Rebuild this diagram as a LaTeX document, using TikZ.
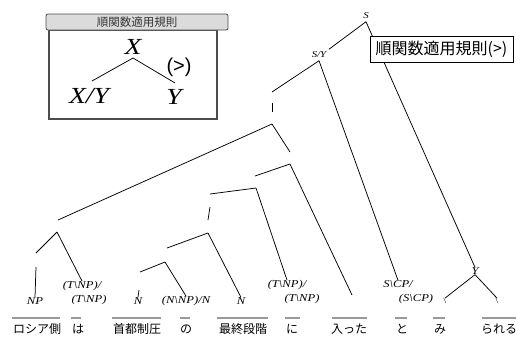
\documentclass[tikz,border=0pt]{standalone}
\usepackage{fontspec}
\setmainfont{Liberation Serif}
\newfontfamily\jp{Noto Sans CJK JP}
\newfontfamily\catf[FakeStretch=1.2]{Liberation Serif}
\newfontfamily\sansf{Liberation Sans}
\begin{document}
\begin{tikzpicture}[x=1pt,y=-1pt,
  cat/.style={font=\catf\itshape\fontsize{10.5}{11}\selectfont, inner sep=0pt},
  smallcat/.style={font=\catf\itshape\fontsize{9}{9}\selectfont, inner sep=2.5pt},
  bigcat/.style={font=\catf\itshape\fontsize{23}{23}\selectfont, inner sep=0pt},
  word/.style={font=\jp\fontsize{12}{12}\selectfont, inner sep=0pt},
  edge/.style={draw=black, line width=0.75pt},
  uline/.style={draw=gray!80, line width=1.8pt}]
\useasboundingbox (0,0) rectangle (516,338);

% ---------- inset box ----------
\node[draw=gray!60!black, line width=1.2pt, minimum width=168pt, minimum height=89pt, inner sep=0pt] (ibody) at (133,74.5) {};
\node[draw=gray!60!black, fill=gray!28, rounded corners=2pt, line width=0.8pt, minimum width=182pt, minimum height=16pt, inner sep=0pt, font=\jp\fontsize{11.5}{11.5}\selectfont, text=black!80] (ihead) at (137,22) {順関数適用規則};
\node[bigcat] (iX) at (133,47) {X};
\node[bigcat] (iXY) at (89,96) {X/Y};
\node[bigcat] (iY) at (174,97) {Y};
\node[font=\sansf\fontsize{20}{20}\selectfont, inner sep=0pt] (igt) at (179,67) {(>)};
\coordinate (ixb) at (133,58);
\coordinate (ixyt) at (92,81);
\coordinate (iyt) at (175,83);
\draw[edge] (ixb) -- (ixyt);
\draw[edge] (ixb) -- (iyt);

% ---------- category labels ----------
\node[smallcat] (S) at (366,16) {S};
\node[smallcat] (SY) at (319,55) {S/Y};
\node[cat] (NP) at (35,301) {NP};
\node[cat] (ha1) at (82,286) {(T\textbackslash NP)/};
\node[cat] (ha2) at (89,300) {(T\textbackslash NP)};
\node[cat] (N1) at (138,301) {N};
\node[cat] (NNP) at (186,301) {(N\textbackslash NP)/N};
\node[cat] (N3) at (241,301) {N};
\node[cat] (ni1) at (287,285) {(T\textbackslash NP)/};
\node[cat] (ni2) at (302,299) {(T\textbackslash NP)};
\node[cat] (SCP1) at (398,284) {S\textbackslash CP/};
\node[cat] (SCP2) at (416,299) {(S\textbackslash CP)};
\node[cat] (Y) at (475,271) {Y};
\node[cat, font=\catf\fontsize{8}{8}\selectfont] (bs1) at (445,301) {\textbackslash};
\node[cat, font=\catf\fontsize{8}{8}\selectfont] (bs2) at (497,301) {\textbackslash};

% ---------- unlabeled tree nodes ----------
\coordinate (n1t) at (272,92);
\coordinate (n1a) at (272,103);
\coordinate (n1b) at (272,112);
\coordinate (n2b) at (272,124);
\coordinate (n3t) at (58,220);
\coordinate (n3b) at (57,232);
\coordinate (n4t) at (290,152);
\coordinate (n4b) at (290,164);
\coordinate (n5t) at (255,176);
\coordinate (n5b) at (256,188);
\coordinate (n6t) at (210,194);
\coordinate (n6a) at (210,207);
\coordinate (n6b) at (208,220);
\coordinate (n7b) at (208,233);
\coordinate (n8t) at (167,248);
\coordinate (n8b) at (165,262);
\coordinate (n9t) at (140,272);
\coordinate (n9a) at (139,290);
\coordinate (n10t) at (36,253);
\coordinate (n10a) at (36,267);
\coordinate (hend) at (352,295);

% ---------- connectors ----------
\draw[edge] (S.south) -- (SY.north east);
\draw[edge] (S.south) -- (Y.north);
\draw[edge] (SY.south) -- (n1t);
\draw[edge] (n1a) -- (n1b);
\draw[edge] (SY.south) -- (SCP1.north);
\draw[edge] (n2b) -- (n3t);
\draw[edge] (n2b) -- (n4t);
\draw[edge] (n4b) -- (n5t);
\draw[edge] (n4b) -- (hend);
\draw[edge] (n5b) -- (n6t);
\draw[edge] (n5b) -- (ni1.north);
\draw[edge] (n6a) -- (n6b);
\draw[edge] (n7b) -- (n8t);
\draw[edge] (n7b) -- (N3.north);
\draw[edge] (n8b) -- (n9t);
\draw[edge] (n8b) -- (NNP.north);
\draw[edge] (n9a) -- (N1.north);
\draw[edge] (n3b) -- (n10t);
\draw[edge] (n3b) -- (ha1.north);
\draw[edge] (n10a) -- (NP.north);
\draw[edge] (Y.south) -- (bs1.north);
\draw[edge] (Y.south) -- (bs2.north);

% ---------- words ----------
\node[word] (w1) at (37,329) {ロシア側};
\node[word] (w2) at (78,329) {は};
\node[word] (w3) at (137,329) {首都制圧};
\node[word] (w4) at (186,329) {の};
\node[word] (w5) at (243,329) {最終段階};
\node[word] (w6) at (292,329) {に};
\node[word] (w7) at (349,329) {入った};
\node[word] (w8) at (402,329) {と};
\node[word] (w9) at (440,329) {み};
\node[word] (w10) at (499,329) {られる};
\draw[uline] (12,318) -- (60,318);
\draw[uline] (71,318) -- (81,318);
\draw[uline] (112,318) -- (161,318);
\draw[uline] (180,318) -- (190,318);
\draw[uline] (217,318) -- (268,318);
\draw[uline] (285,318) -- (300,318);
\draw[uline] (332,318) -- (367,318);
\draw[uline] (395,318) -- (407,318);
\draw[uline] (433,318) -- (445,318);
\draw[uline] (482,318) -- (516,318);

% ---------- rule box ----------
\node[draw=black, fill=white, line width=0.7pt, minimum width=143pt, minimum height=26pt, inner sep=0pt, font=\jp\fontsize{16}{16}\selectfont] (rule) at (441.5,49) {順関数適用規則(>)};
\end{tikzpicture}
\end{document}
